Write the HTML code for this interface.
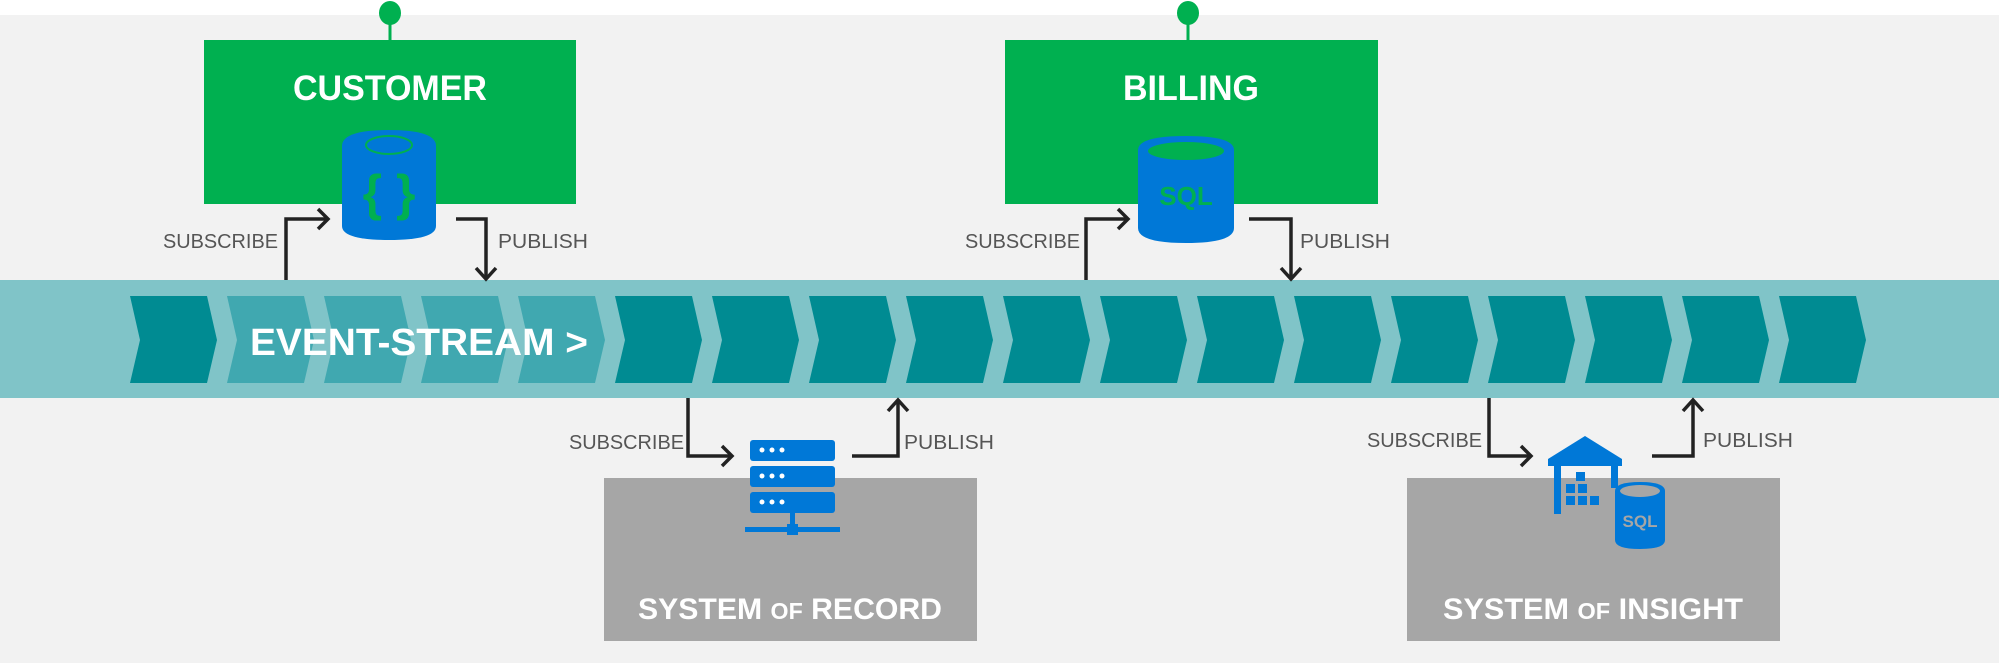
<!DOCTYPE html>
<html><head><meta charset="utf-8"><style>html,body{margin:0;padding:0;background:#fff}svg{display:block}</style></head>
<body>
<svg width="1999" height="666" viewBox="0 0 1999 666" xmlns="http://www.w3.org/2000/svg" font-family="Liberation Sans, sans-serif">
<rect x="0" y="0" width="1999" height="666" fill="#fff"/>
<rect x="0" y="15" width="1999" height="648" fill="#f2f2f2"/>
<!-- stream band -->
<rect x="0" y="280" width="1999" height="118" fill="#80c4c8"/>
<g id="chev">
<polygon points="130,296 207,296 217,340 207,383 130,383 140,340" fill="#008b92"/>
<polygon points="227,296 304,296 314,340 304,383 227,383 237,340" fill="#40a8b0"/>
<polygon points="324,296 401,296 411,340 401,383 324,383 334,340" fill="#40a8b0"/>
<polygon points="421,296 498,296 508,340 498,383 421,383 431,340" fill="#40a8b0"/>
<polygon points="518,296 595,296 605,340 595,383 518,383 528,340" fill="#40a8b0"/>
<polygon points="615,296 692,296 702,340 692,383 615,383 625,340" fill="#008b92"/>
<polygon points="712,296 789,296 799,340 789,383 712,383 722,340" fill="#008b92"/>
<polygon points="809,296 886,296 896,340 886,383 809,383 819,340" fill="#008b92"/>
<polygon points="906,296 983,296 993,340 983,383 906,383 916,340" fill="#008b92"/>
<polygon points="1003,296 1080,296 1090,340 1080,383 1003,383 1013,340" fill="#008b92"/>
<polygon points="1100,296 1177,296 1187,340 1177,383 1100,383 1110,340" fill="#008b92"/>
<polygon points="1197,296 1274,296 1284,340 1274,383 1197,383 1207,340" fill="#008b92"/>
<polygon points="1294,296 1371,296 1381,340 1371,383 1294,383 1304,340" fill="#008b92"/>
<polygon points="1391,296 1468,296 1478,340 1468,383 1391,383 1401,340" fill="#008b92"/>
<polygon points="1488,296 1565,296 1575,340 1565,383 1488,383 1498,340" fill="#008b92"/>
<polygon points="1585,296 1662,296 1672,340 1662,383 1585,383 1595,340" fill="#008b92"/>
<polygon points="1682,296 1759,296 1769,340 1759,383 1682,383 1692,340" fill="#008b92"/>
<polygon points="1779,296 1856,296 1866,340 1856,383 1779,383 1789,340" fill="#008b92"/>
</g>
<text x="250" y="355" font-size="38" font-weight="bold" fill="#fff" textLength="338" lengthAdjust="spacingAndGlyphs">EVENT-STREAM &gt;</text>

<!-- customer -->
<line x1="390" y1="14" x2="390" y2="40" stroke="#00b050" stroke-width="3"/>
<ellipse cx="390" cy="13" rx="11" ry="12" fill="#00b050"/>
<rect x="204" y="40" width="372" height="164" fill="#00b050"/>
<text x="390" y="100" font-size="35" font-weight="bold" fill="#fff" text-anchor="middle" textLength="194" lengthAdjust="spacingAndGlyphs">CUSTOMER</text>
<g>
<path d="M342,146 Q342,130 389,130 Q436,130 436,146 L436,226 Q436,240 389,240 Q342,240 342,226 Z" fill="#0078d7"/>
<ellipse cx="389" cy="145" rx="23" ry="9" fill="none" stroke="#00b050" stroke-width="2"/>
<text x="389" y="210" font-size="50" font-weight="bold" fill="#00b050" text-anchor="middle">{ }</text>
</g>
<!-- billing -->
<line x1="1188" y1="14" x2="1188" y2="40" stroke="#00b050" stroke-width="3"/>
<ellipse cx="1188" cy="13" rx="11" ry="12" fill="#00b050"/>
<rect x="1005" y="40" width="373" height="164" fill="#00b050"/>
<text x="1191" y="100" font-size="35" font-weight="bold" fill="#fff" text-anchor="middle" textLength="136" lengthAdjust="spacingAndGlyphs">BILLING</text>
<g>
<path d="M1138,150 Q1138,136 1186,136 Q1234,136 1234,150 L1234,228 Q1234,243 1186,243 Q1138,243 1138,228 Z" fill="#0078d7"/>
<ellipse cx="1186" cy="151" rx="38" ry="9" fill="#00b050"/>
<text x="1186" y="205" font-size="26" font-weight="bold" fill="#00b050" text-anchor="middle">SQL</text>
</g>

<!-- connectors -->
<g fill="none" stroke="#222" stroke-width="3.5">
<path d="M286,280 V219 H327"/><path d="M318,209 L328,219 L318,229"/>
<path d="M456,219 H486 V278"/><path d="M476,268 L486,279 L496,268"/>
<path d="M1086,280 V219 H1127"/><path d="M1118,209 L1128,219 L1118,229"/>
<path d="M1249,219 H1291 V278"/><path d="M1281,268 L1291,279 L1301,268"/>
<path d="M688,398 V456 H731"/><path d="M722,446 L732,456 L722,466"/>
<path d="M852,456 H898 V401"/><path d="M888,411 L898,400 L908,411"/>
<path d="M1489,398 V456 H1530"/><path d="M1521,446 L1531,456 L1521,466"/>
<path d="M1652,456 H1693 V401"/><path d="M1683,411 L1693,400 L1703,411"/>
</g>
<g font-size="20" fill="#555">
<text x="163" y="248" textLength="115" lengthAdjust="spacingAndGlyphs">SUBSCRIBE</text>
<text x="498" y="248" textLength="90" lengthAdjust="spacingAndGlyphs">PUBLISH</text>
<text x="965" y="248" textLength="115" lengthAdjust="spacingAndGlyphs">SUBSCRIBE</text>
<text x="1300" y="248" textLength="90" lengthAdjust="spacingAndGlyphs">PUBLISH</text>
<text x="569" y="449" textLength="115" lengthAdjust="spacingAndGlyphs">SUBSCRIBE</text>
<text x="904" y="449" textLength="90" lengthAdjust="spacingAndGlyphs">PUBLISH</text>
<text x="1367" y="447" textLength="115" lengthAdjust="spacingAndGlyphs">SUBSCRIBE</text>
<text x="1703" y="447" textLength="90" lengthAdjust="spacingAndGlyphs">PUBLISH</text>
</g>

<!-- system of record -->
<rect x="604" y="478" width="373" height="163" fill="#a6a6a6"/>
<text x="790" y="619" font-size="30" font-weight="bold" fill="#fff" text-anchor="middle" textLength="304" lengthAdjust="spacingAndGlyphs">SYSTEM <tspan font-size="23">OF</tspan> RECORD</text>
<g fill="#0078d7">
<rect x="750" y="440" width="85" height="21" rx="3"/>
<rect x="750" y="466" width="85" height="21" rx="3"/>
<rect x="750" y="492" width="85" height="21" rx="3"/>
<rect x="790" y="513" width="5" height="14"/>
<rect x="745" y="527" width="95" height="5"/>
<rect x="787" y="524" width="11" height="11"/>
</g>
<g fill="#fff"><circle cx="762" cy="450" r="2.5"/><circle cx="772" cy="450" r="2.5"/><circle cx="782" cy="450" r="2.5"/>
<circle cx="762" cy="476" r="2.5"/><circle cx="772" cy="476" r="2.5"/><circle cx="782" cy="476" r="2.5"/>
<circle cx="762" cy="502" r="2.5"/><circle cx="772" cy="502" r="2.5"/><circle cx="782" cy="502" r="2.5"/></g>

<!-- system of insight -->
<rect x="1407" y="478" width="373" height="163" fill="#a6a6a6"/>
<text x="1593" y="619" font-size="30" font-weight="bold" fill="#fff" text-anchor="middle" textLength="300" lengthAdjust="spacingAndGlyphs">SYSTEM <tspan font-size="23">OF</tspan> INSIGHT</text>
<g fill="#0078d7">
<polygon points="1548,459 1585,436 1622,459 1622,466 1548,466"/>
<rect x="1554" y="466" width="7" height="48"/>
<rect x="1611" y="466" width="7" height="22"/>
<rect x="1576" y="472" width="9" height="9"/>
<rect x="1566" y="484" width="9" height="9"/><rect x="1578" y="484" width="9" height="9"/>
<rect x="1566" y="496" width="9" height="9"/><rect x="1578" y="496" width="9" height="9"/><rect x="1590" y="496" width="9" height="9"/>
<path d="M1615,491 Q1615,482 1640,482 Q1665,482 1665,491 L1665,540 Q1665,549 1640,549 Q1615,549 1615,540 Z"/>
</g>
<ellipse cx="1640" cy="491" rx="20" ry="6" fill="#a6a6a6"/>
<text x="1640" y="527" font-size="17" font-weight="bold" fill="#a6a6a6" text-anchor="middle">SQL</text>
</svg>
</body></html>
